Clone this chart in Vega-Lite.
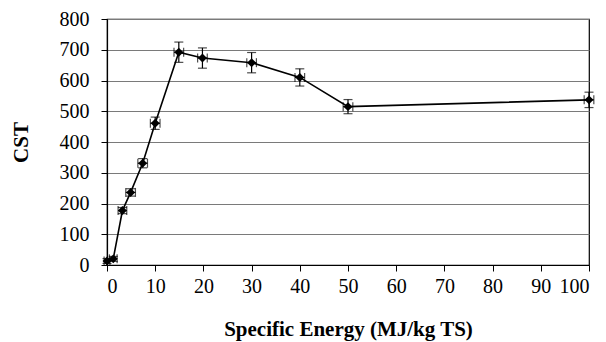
{
  "$schema": "https://vega.github.io/schema/vega-lite/v6.json",
  "width": 482,
  "height": 246,
  "autosize": {"type": "none"},
  "padding": {"left": 107, "top": 19, "right": 17, "bottom": 77},
  "background": "white",
  "config": {
    "view": {"stroke": "black", "strokeWidth": 1.2},
    "font": "Liberation Serif",
    "axis": {
      "labelFont": "Liberation Serif",
      "titleFont": "Liberation Serif",
      "labelColor": "black",
      "titleColor": "black",
      "labelFontSize": 20,
      "titleFontSize": 21,
      "titleFontWeight": "bold",
      "domainColor": "black",
      "tickColor": "black",
      "tickSize": 6,
      "domainWidth": 1.2,
      "tickWidth": 1
    },
    "axisX": {"grid": false, "labelPadding": 5, "titlePadding": 22},
    "axisY": {"grid": true, "gridColor": "#7a7a7a", "gridWidth": 1.2, "labelPadding": 12, "titlePadding": 28}
  },
  "data": {
    "values": [
      {"x": 0, "y": 13, "ylo": 5, "yhi": 21, "xlo": -0.6, "xhi": 0.6},
      {"x": 1.3, "y": 20, "ylo": 12, "yhi": 28, "xlo": 0.5, "xhi": 2.1},
      {"x": 3.2, "y": 177, "ylo": 167, "yhi": 187, "xlo": 2.3, "xhi": 4.1},
      {"x": 4.9, "y": 236, "ylo": 224, "yhi": 248, "xlo": 3.9, "xhi": 5.9},
      {"x": 7.4, "y": 331, "ylo": 316, "yhi": 346, "xlo": 6.4, "xhi": 8.4},
      {"x": 10, "y": 461, "ylo": 441, "yhi": 481, "xlo": 9, "xhi": 11},
      {"x": 14.9, "y": 692, "ylo": 659, "yhi": 725, "xlo": 13.9, "xhi": 15.9},
      {"x": 19.8, "y": 673, "ylo": 640, "yhi": 706, "xlo": 18.8, "xhi": 20.8},
      {"x": 30, "y": 658, "ylo": 625, "yhi": 691, "xlo": 29, "xhi": 31},
      {"x": 40, "y": 610, "ylo": 582, "yhi": 638, "xlo": 39, "xhi": 41},
      {"x": 50, "y": 515, "ylo": 492, "yhi": 538, "xlo": 49, "xhi": 51},
      {"x": 100, "y": 537, "ylo": 512, "yhi": 562, "xlo": 99, "xhi": 101}
    ]
  },
  "layer": [
    {
      "mark": {"type": "line", "color": "black", "strokeWidth": 1.6},
      "encoding": {
        "x": {
          "field": "x", "type": "quantitative",
          "scale": {"domain": [0, 100], "nice": false},
          "axis": {"values": [0, 10, 20, 30, 40, 50, 60, 70, 80, 90, 100]},
          "title": "Specific Energy (MJ/kg TS)"
        },
        "y": {
          "field": "y", "type": "quantitative",
          "scale": {"domain": [0, 800], "nice": false},
          "axis": {"values": [0, 100, 200, 300, 400, 500, 600, 700, 800]},
          "title": "CST"
        }
      }
    },
    {
      "mark": {"type": "errorbar", "color": "black", "ticks": {"size": 9, "color": "black", "thickness": 1.2}, "thickness": 1.2},
      "encoding": {
        "x": {"field": "x", "type": "quantitative", "title": "Specific Energy (MJ/kg TS)",
              "axis": {"values": [0, 10, 20, 30, 40, 50, 60, 70, 80, 90, 100]}},
        "y": {"field": "ylo", "type": "quantitative", "title": "CST",
              "axis": {"values": [0, 100, 200, 300, 400, 500, 600, 700, 800]}},
        "y2": {"field": "yhi"}
      }
    },
    {
      "mark": {"type": "errorbar", "color": "black", "ticks": {"size": 9, "color": "black", "thickness": 1.2}, "thickness": 1.2},
      "encoding": {
        "y": {"field": "y", "type": "quantitative", "title": "CST",
              "axis": {"values": [0, 100, 200, 300, 400, 500, 600, 700, 800]}},
        "x": {"field": "xlo", "type": "quantitative", "title": "Specific Energy (MJ/kg TS)",
              "axis": {"values": [0, 10, 20, 30, 40, 50, 60, 70, 80, 90, 100]}},
        "x2": {"field": "xhi"}
      }
    },
    {
      "mark": {"type": "point", "shape": "diamond", "filled": true, "color": "black", "size": 80, "opacity": 1},
      "encoding": {
        "x": {"field": "x", "type": "quantitative", "title": "Specific Energy (MJ/kg TS)",
              "axis": {"values": [0, 10, 20, 30, 40, 50, 60, 70, 80, 90, 100]}},
        "y": {"field": "y", "type": "quantitative", "title": "CST",
              "axis": {"values": [0, 100, 200, 300, 400, 500, 600, 700, 800]}}
      }
    }
  ]
}
